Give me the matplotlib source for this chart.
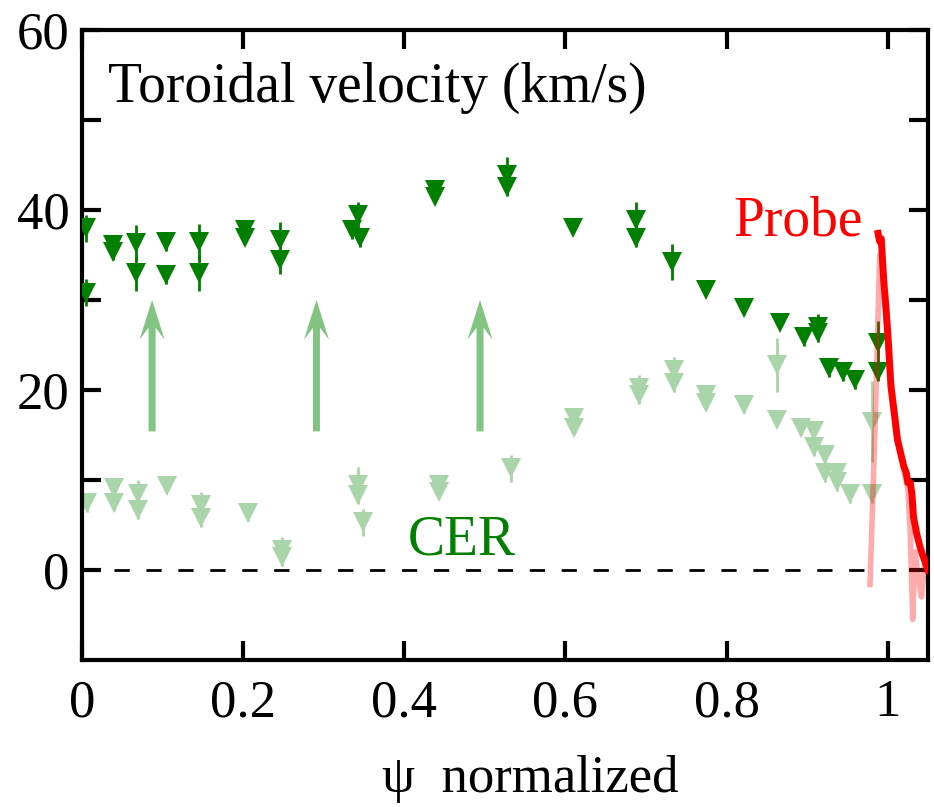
import matplotlib
matplotlib.use('Agg')
import matplotlib.pyplot as plt

plt.rcParams['font.family'] = ['Liberation Serif', 'DejaVu Serif']

# CER, first set (dark green)
cer_x = [0.005, 0.005, 0.038, 0.038, 0.067, 0.067, 0.104, 0.104, 0.145, 0.145,
         0.202, 0.202, 0.246, 0.246, 0.343, 0.335, 0.345, 0.438, 0.438, 0.528,
         0.528, 0.609, 0.688, 0.688, 0.732, 0.774, 0.822, 0.866, 0.896, 0.913,
         0.913, 0.927, 0.944, 0.960, 0.988, 0.988]
cer_v = [38.0, 30.8, 36.1, 35.3, 36.3, 33.0, 36.4, 32.8, 36.4, 33.0,
         37.8, 36.9, 36.7, 34.4, 39.4, 37.8, 36.9, 42.2, 41.5, 43.9,
         42.6, 38.0, 38.9, 36.9, 34.2, 31.1, 29.1, 27.4, 25.9, 27.0,
         26.3, 22.4, 22.0, 21.1, 25.2, 22.0]
cer_err = [1.5, 1.5, 0.8, 0.8, 2.0, 2.0, 1.0, 1.0, 2.0, 2.0,
           0.5, 0.5, 2.0, 1.5, 1.5, 1.0, 1.0, 0.5, 0.5, 2.0,
           1.0, 0.3, 2.0, 1.0, 2.0, 0.5, 0.8, 0.5, 1.0, 1.5,
           1.0, 1.0, 1.0, 1.0, 2.5, 1.0]

# CER, second set (light green)
cer2_x = [0.006, 0.040, 0.040, 0.070, 0.070, 0.106, 0.148, 0.148, 0.206, 0.248,
          0.248, 0.342, 0.342, 0.349, 0.443, 0.443, 0.532, 0.611, 0.611, 0.691,
          0.691, 0.735, 0.735, 0.775, 0.775, 0.822, 0.863, 0.863, 0.892, 0.908,
          0.908, 0.922, 0.922, 0.937, 0.937, 0.953, 0.980, 0.980]
cer2_v = [7.5, 9.1, 7.4, 8.5, 6.7, 9.3, 7.2, 5.8, 6.3, 2.2,
          1.5, 9.4, 8.3, 5.3, 9.4, 8.7, 11.3, 16.9, 15.8, 20.2,
          19.4, 22.2, 20.8, 19.4, 18.6, 18.3, 22.8, 16.7, 15.8, 15.4,
          13.7, 12.8, 10.8, 10.8, 9.8, 8.5, 16.5, 8.5]
cer2_err = [1.0, 0.8, 0.8, 1.5, 1.0, 0.5, 1.5, 1.0, 0.8, 1.5,
            1.0, 2.0, 1.0, 1.5, 0.5, 0.5, 1.5, 0.5, 0.5, 1.5,
            1.0, 1.5, 1.0, 0.5, 0.5, 0.8, 3.0, 0.5, 0.8, 1.0,
            1.0, 1.0, 1.0, 1.0, 1.0, 1.0, 4.5, 1.0]

# probe profiles
probe_x = [0.988, 0.990, 0.992, 0.995, 0.998, 1.001, 1.004, 1.008, 1.012, 1.016,
           1.020, 1.023, 1.025, 1.028, 1.030, 1.032, 1.036, 1.040, 1.044, 1.048, 1.050]
probe_v = [37.4, 36.5, 36.8, 32.2, 29.0, 25.0, 20.4, 17.5, 14.5, 13.0,
           11.5, 10.8, 9.7, 9.7, 8.5, 5.9, 4.0, 2.6, 1.5, 0.5, 0.0]
probe2_x = [0.978, 0.984, 0.990, 0.995, 1.003, 1.012, 1.020, 1.025, 1.028, 1.031,
            1.034, 1.038, 1.042, 1.046]
probe2_v = [-1.6, 15.0, 35.0, 31.0, 22.0, 15.0, 11.0, 9.0, 4.0, -5.5,
            2.0, -1.0, -3.0, 1.0]

# arrows showing the shift between the two CER sets
arrow_x = [0.087, 0.291, 0.494]
arrow_y0 = 15.4
arrow_y1 = 30.0

xticks = [0, 0.2, 0.4, 0.6, 0.8, 1.0]
xticklabels = ['0', '0.2', '0.4', '0.6', '0.8', '1']
yticks = [0, 20, 40, 60]

fig = plt.figure(figsize=(9.34, 8.07), dpi=100)
ax = fig.add_axes([82 / 934, 1 - 660 / 807, 846 / 934, 630 / 807])

ax.axhline(0, color='black', lw=2, ls=(0, (5.5, 6)), zorder=1)

ax.errorbar(cer2_x, cer2_v, yerr=cer2_err, fmt='v', color='#AAD5AA', ms=15,
            mew=0, elinewidth=2, capsize=0, zorder=2)
ax.errorbar(cer_x, cer_v, yerr=cer_err, fmt='v', color='#007F00', ms=15,
            mew=0, elinewidth=2, capsize=0, zorder=3)

for x in arrow_x:
    ax.arrow(x, arrow_y0, 0, arrow_y1 - arrow_y0, width=0.0087, head_width=0.031,
             head_length=4.4, overhang=0.3, length_includes_head=True,
             color='#82C482', lw=0, zorder=2)

ax.plot(probe2_x, probe2_v, color='red', alpha=0.33, lw=4, zorder=4)
ax.plot(probe_x, probe_v, color='red', lw=5, zorder=5)

ax.text(0.032, 52.0, 'Toroidal velocity (km/s)', fontsize=40, va='baseline')
ax.text(0.969, 37.2, 'Probe', fontsize=40, color='red', ha='right', va='baseline')
ax.text(0.471, 1.7, 'CER', fontsize=40, color='#007F00', ha='center', va='baseline')

ax.set_xlim(0, 1.05)
ax.set_ylim(-10, 60)
ax.set_xticks(xticks)
ax.set_xticklabels(xticklabels)
ax.set_yticks(yticks)
ax.set_yticks([10, 30, 50], minor=True)
ax.tick_params(which='both', direction='in', length=14, width=3,
               top=True, right=True, labelsize=38)
ax.tick_params(axis='y', pad=9)
ax.tick_params(axis='x', pad=14)
for s in ax.spines.values():
    s.set_linewidth(3)

fig.text(530 / 934, 1 - 792 / 807, 'ψ  normalized', fontsize=38,
         ha='center', va='baseline')

plt.savefig('out.png', dpi=100)
plt.close()
